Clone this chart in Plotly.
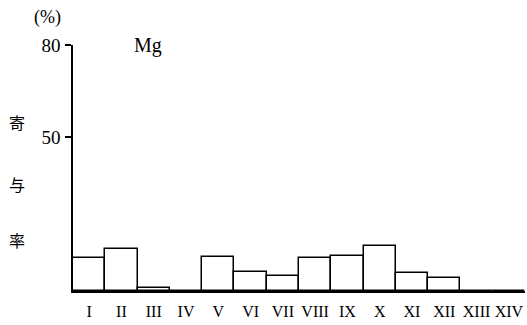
import plotly.graph_objects as go

# Contribution ratio of Mg by group (%)
groups = ["I", "II", "III", "IV", "V", "VI", "VII", "VIII", "IX", "X", "XI", "XII", "XIII", "XIV"]
contribution = [10.6, 13.8, 1.0, 0.0, 11.2, 6.2, 4.9, 10.6, 11.4, 14.7, 5.7, 4.1, 0.0, 0.0]
y_ticks = [50, 80]
element = "Mg"
unit = "(%)"
y_title_chars = ["寄", "与", "率"]

serif = "Times New Roman, Liberation Serif, DejaVu Serif, serif"
cjk = "Noto Sans CJK JP"

W, H = 527, 325
L, R, T, B = 73, 2, 45, 34

positions = list(range(1, len(groups) + 1))

fig = go.Figure()
fig.add_trace(go.Bar(
    x=positions,
    y=contribution,
    width=1,
    marker=dict(color="white", line=dict(color="black", width=1.5)),
    hoverinfo="skip",
))

fig.update_layout(
    width=W, height=H,
    margin=dict(l=L, r=R, t=T, b=B),
    paper_bgcolor="white", plot_bgcolor="white",
    showlegend=False,
    bargap=0,
    font=dict(family=serif, color="black"),
    xaxis=dict(
        range=[0.5, 14.5],
        tickvals=positions, ticktext=groups,
        tickfont=dict(family=serif, size=16, color="black"),
        showline=True, linecolor="black", linewidth=1.5,
        showgrid=False, zeroline=False, ticks="", ticklabelstandoff=5,
    ),
    yaxis=dict(
        range=[0, 80],
        tickvals=y_ticks,
        tickfont=dict(family=serif, size=19, color="black"),
        showline=True, linecolor="black", linewidth=1.5,
        ticks="outside", ticklen=6, tickwidth=1.5, tickcolor="black",
        showgrid=False, zeroline=False, ticklabelstandoff=1,
    ),
)


def px(xp, yp):
    """Pixel position in the figure -> paper coordinates of the plot area."""
    return (xp - L) / (W - L - R), (H - B - yp) / (H - T - B)


def label(text, xp, yp, family, size):
    xx, yy = px(xp, yp)
    fig.add_annotation(text=text, x=xx, y=yy, xref="paper", yref="paper",
                       showarrow=False, xanchor="center", yanchor="middle",
                       font=dict(family=family, size=size, color="black"))


label(unit, 47, 18, serif, 18)
label(element, 148, 46, serif, 20)
for ch, yp in zip(y_title_chars, [122, 184, 240]):
    label(ch, 17, yp, cjk, 16)

fig.write_html("out.html")
